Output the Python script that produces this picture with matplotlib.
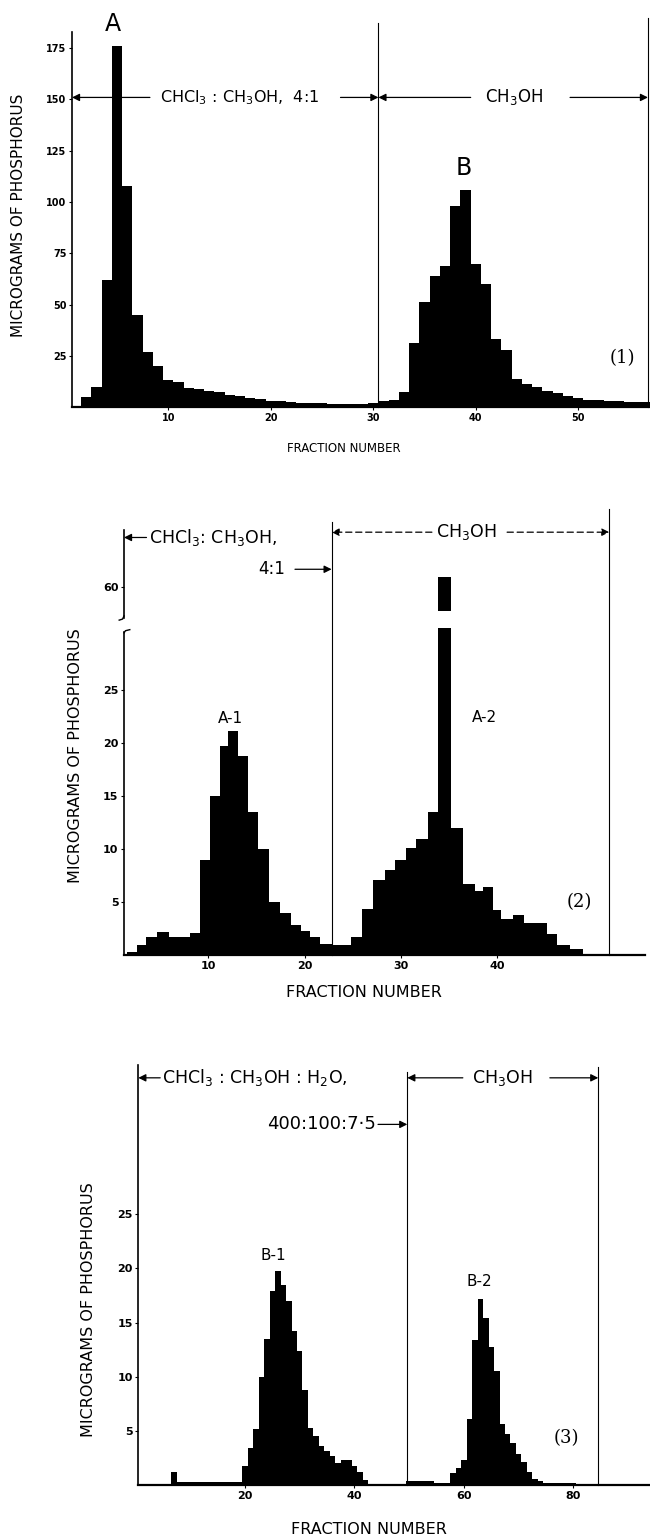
import matplotlib
matplotlib.use("Agg")
import matplotlib.pyplot as plt
import numpy as np

# panel (1): first column, micrograms of P per fraction
frac_1 = list(range(2, 58))
fosforo_1 = [5, 10, 62, 176, 108, 45, 27, 20, 13, 12, 9.5, 9, 8, 7.5, 6, 5.5,
             4.5, 4, 3, 3, 2.5, 2, 2, 1.8, 1.5, 1.5, 1.5, 1.5, 2, 3, 3.4,
             7.5, 31, 51, 64, 69, 98, 106, 70, 60, 33, 28, 13.5, 11, 10, 8,
             7, 5.5, 4.5, 3.5, 3.5, 3, 3, 2.5, 2.5, 2.5]

# panel (2): rechromatography of A, bins as drawn (edges in fraction units)
bordas_2 = [1.6, 2.6, 3.6, 4.7, 5.9, 6.9, 8.1, 9.2, 10.2, 11.2, 12.1, 13.1,
            14.1, 15.2, 16.3, 17.4, 18.6, 19.6, 20.6, 21.6, 22.8, 23.8, 24.8,
            26.0, 27.1, 28.3, 29.4, 30.5, 31.6, 32.8, 33.8, 35.2, 36.4, 37.7,
            38.5, 39.5, 40.4, 41.6, 42.7, 43.9, 45.1, 46.2, 47.5, 48.9]
fosforo_2 = [0.3, 0.9, 1.7, 2.2, 1.7, 1.7, 2.1, 9.0, 15.0, 19.7, 21.1, 18.8,
             13.5, 10.0, 5.0, 4.0, 2.8, 2.3, 1.7, 1.0, 0.9, 0.9, 1.7, 4.3,
             7.1, 8.0, 9.0, 10.1, 10.9, 13.5, 61, 12.0, 6.7, 6.0, 6.4, 4.2,
             3.4, 3.8, 3.0, 3.0, 2.0, 0.9, 0.6]

# panel (3): rechromatography of B
frac_3 = ([7] + list(range(8, 20)) + list(range(20, 43))
          + list(range(50, 58)) + list(range(58, 81)))
fosforo_3 = ([1.2]
             + [0.3, 0.3, 0.3, 0.3, 0.3, 0.3, 0.3, 0.3, 0.3, 0.3, 0.3, 0.3]
             + [1.8, 3.4, 5.2, 10.0, 13.5, 17.9, 19.8, 18.5, 17.0, 14.2, 12.4,
                8.8, 5.3, 4.5, 3.6, 3.1, 2.7, 2.0, 2.3, 2.3, 1.8, 1.2, 0.5]
             + [0.35, 0.35, 0.35, 0.35, 0.35, 0.2, 0.2, 0.2]
             + [1.1, 1.6, 2.3, 6.1, 13.4, 17.2, 15.4, 12.7, 10.5, 5.6, 4.7,
                3.9, 2.9, 2.1, 1.2, 0.6, 0.4, 0.2, 0.2, 0.2, 0.2, 0.2, 0.2])

# troca de solvente (fraction number where the eluent changed)
troca_1 = [30.5, 56.8]
troca_2 = [22.8, 51.6]
troca_3 = [49.65, 84.55]

# broken y axis of panel (2)
QUEBRA_BAIXO = 30.85
QUEBRA_ALTO = 32.5
VALOR_60 = 60
POS_60 = 34.7

FONTE = "DejaVu Sans"
SERIFA = "DejaVu Serif"
plt.rcParams["font.family"] = [FONTE]
plt.rcParams["mathtext.fontset"] = "dejavusans"


def acima_quebra(v):
    return v - VALOR_60 + POS_60


def seta(ax, cauda, ponta, y, estilo="-"):
    ax.annotate("", xy=(ponta, y), xytext=(cauda, y),
                arrowprops=dict(arrowstyle="-|>", color="black", lw=0.9,
                                linestyle=estilo, shrinkA=0, shrinkB=0,
                                mutation_scale=11),
                annotation_clip=False)


def estilo_eixos(ax, tam=7.5):
    ax.spines["top"].set_visible(False)
    ax.spines["right"].set_visible(False)
    ax.spines["left"].set_linewidth(1.2)
    ax.spines["bottom"].set_linewidth(1.6)
    ax.tick_params(length=2, width=0.8, pad=2, labelsize=tam)
    for lab in ax.get_xticklabels() + ax.get_yticklabels():
        lab.set_fontweight("bold")


fig = plt.figure(figsize=(6.5, 15.4), dpi=100)

# ---------------- panel (1)
ax1 = fig.add_axes([0.1108, 0.7357, 0.8892, 0.2435])
ax1.bar(frac_1, fosforo_1, width=1.0, color="black", linewidth=0)
ax1.set_xlim(0.6, 57.0)
ax1.set_ylim(0, 182.9)
ax1.set_xticks([10, 20, 30, 40, 50])
ax1.set_yticks([25, 50, 75, 100, 125, 150, 175])
estilo_eixos(ax1, 7)
for x, topo in zip(troca_1, [187.3, 189.8]):
    ax1.plot([x, x], [0, topo], color="black", lw=0.8, clip_on=False)
seta(ax1, 8.2, 0.6, 151)
ax1.text(9.2, 151, r"CHCl$_3$ : CH$_3$OH,  4:1", ha="left", va="center",
         fontsize=11.5)
seta(ax1, 26.8, troca_1[0], 151)
seta(ax1, 39.5, troca_1[0], 151)
ax1.text(43.7, 151, r"CH$_3$OH", ha="center", va="center", fontsize=12)
seta(ax1, 49.2, troca_1[1], 151)
ax1.text(4.6, 186.8, "A", ha="center", va="center", fontsize=17)
ax1.text(38.8, 116.6, "B", ha="center", va="center", fontsize=17)
ax1.text(54.3, 23.9, "(1)", ha="center", va="center", fontsize=13,
         family=SERIFA)
ax1.set_xlabel("FRACTION NUMBER", fontsize=8.5)
ax1.xaxis.set_label_coords(0.47, -0.093)
ax1.set_ylabel("MICROGRAMS OF PHOSPHORUS", fontsize=11)
ax1.yaxis.set_label_coords(-0.080, 0.512)

# ---------------- panel (2)
ax2 = fig.add_axes([0.1908, 0.3799, 0.8015, 0.2759])
valores_2 = np.array(fosforo_2, dtype=float)
bordas_2 = np.array(bordas_2)
ax2.stairs(np.minimum(valores_2, QUEBRA_BAIXO), bordas_2, fill=True,
           color="black")
for i in np.where(valores_2 > QUEBRA_BAIXO)[0]:
    ax2.bar(bordas_2[i], acima_quebra(valores_2[i]) - QUEBRA_ALTO,
            width=bordas_2[i + 1] - bordas_2[i], bottom=QUEBRA_ALTO,
            align="edge", color="black", linewidth=0)
ax2.set_xlim(1.27, 55.3)
ax2.set_ylim(0, 40.1)
ax2.set_xticks([10, 20, 30, 40])
ax2.set_yticks([5, 10, 15, 20, 25, acima_quebra(VALOR_60)])
ax2.set_yticklabels(["5", "10", "15", "20", "25", str(VALOR_60)])
estilo_eixos(ax2, 8)
ax2.spines["left"].set_bounds(0, 30.5)
x0 = 1.27
ax2.plot([x0, x0], [31.8, 40.1], color="black", lw=1.2, clip_on=False)
ax2.plot([x0 + 0.6, x0 + 0.15, x0], [30.7, 30.6, 30.4], color="black",
         lw=1.0, clip_on=False)
ax2.plot([x0, x0 - 0.15, x0 - 0.5], [32.0, 31.7, 31.6], color="black",
         lw=1.0, clip_on=False)
for x, topo in zip(troca_2, [40.9, 42.1]):
    ax2.plot([x, x], [0, topo], color="black", lw=0.8, clip_on=False)
seta(ax2, 3.6, x0, 39.4)
ax2.text(3.9, 39.4, r"CHCl$_3$: CH$_3$OH,", ha="left", va="center",
         fontsize=12.5)
ax2.text(18.0, 36.4, "4:1", ha="right", va="center", fontsize=12)
seta(ax2, 19.0, troca_2[0], 36.4)
seta(ax2, 33.2, troca_2[0], 39.9, (0, (5, 3)))
ax2.text(36.8, 39.9, r"CH$_3$OH", ha="center", va="center", fontsize=12.5)
seta(ax2, 41.0, troca_2[1], 39.9, (0, (5, 3)))
ax2.text(12.3, 22.3, "A-1", ha="center", va="center", fontsize=11)
ax2.text(38.7, 22.4, "A-2", ha="center", va="center", fontsize=11)
ax2.text(48.5, 5.0, "(2)", ha="center", va="center", fontsize=13,
         family=SERIFA)
ax2.set_xlabel("FRACTION NUMBER", fontsize=11.5)
ax2.xaxis.set_label_coords(0.46, -0.071)
ax2.set_ylabel("MICROGRAMS OF PHOSPHORUS", fontsize=11.5)
ax2.yaxis.set_label_coords(-0.079, 0.47)

# ---------------- panel (3)
ax3 = fig.add_axes([0.2128, 0.0357, 0.7872, 0.2725])
ax3.bar(frac_3, fosforo_3, width=1.0, color="black", linewidth=0)
ax3.set_xlim(0.5, 94.0)
ax3.set_ylim(0, 38.75)
ax3.set_xticks([20, 40, 60, 80])
ax3.set_yticks([5, 10, 15, 20, 25])
estilo_eixos(ax3, 8)
for x, topo in zip(troca_3, [38.1, 38.6]):
    ax3.plot([x, x], [0, topo], color="black", lw=0.8, clip_on=False)
seta(ax3, 4.5, 0.5, 37.6)
ax3.text(4.8, 37.6, r"CHCl$_3$ : CH$_3$OH : H$_2$O,", ha="left",
         va="center", fontsize=12.5)
ax3.text(44.0, 33.3, "400:100:7\u00b75", ha="right", va="center",
         fontsize=13)
seta(ax3, 44.3, troca_3[0], 33.3)
seta(ax3, 59.8, troca_3[0], 37.6)
ax3.text(67.1, 37.6, r"CH$_3$OH", ha="center", va="center", fontsize=12.5)
seta(ax3, 75.7, troca_3[1], 37.6)
ax3.text(25.1, 21.2, "B-1", ha="center", va="center", fontsize=11)
ax3.text(62.9, 18.8, "B-2", ha="center", va="center", fontsize=11)
ax3.text(78.8, 4.3, "(3)", ha="center", va="center", fontsize=13,
         family=SERIFA)
ax3.set_xlabel("FRACTION NUMBER", fontsize=11.5)
ax3.xaxis.set_label_coords(0.45, -0.088)
ax3.set_ylabel("MICROGRAMS OF PHOSPHORUS", fontsize=11.5)
ax3.yaxis.set_label_coords(-0.083, 0.419)

fig.savefig("out.png", dpi=100)
